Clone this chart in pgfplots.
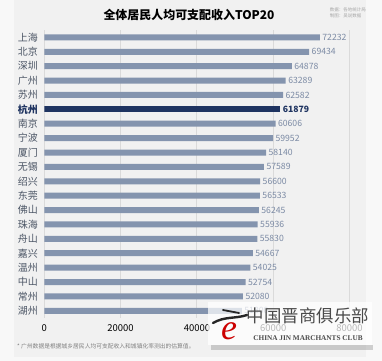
\documentclass[border=0pt]{standalone}
\usepackage{fontspec}
\setmainfont{Noto Sans CJK SC}
\newfontfamily\lserif{Liberation Serif}
\usepackage{pgfplots}
\pgfplotsset{compat=1.18}
\definecolor{barc}{HTML}{8494AE}
\definecolor{hz}{HTML}{1F3461}
\definecolor{lab}{HTML}{4B5565}
\definecolor{val}{HTML}{7B8AA4}
\definecolor{outerc}{HTML}{F8F8F8}
\definecolor{panel}{HTML}{F1F1F1}
\definecolor{gridc}{HTML}{DADADA}
\definecolor{wm}{HTML}{4A4A4A}
\begin{document}
\begin{tikzpicture}[x=1bp,y=1bp]
\fill[outerc] (0,0) rectangle (382,361);
\useasboundingbox (0,0) rectangle (382,361);
\fill[panel] (14,4) rectangle (366,361);
\node[font=\bfseries\fontsize{12}{14}\selectfont] at (189,346) {全体居民人均可支配收入TOP20};
\node[font=\fontsize{4.5}{5.5}\selectfont, text=gray!70, align=left, anchor=east, inner sep=0pt] at (366,348) {数据：各地统计局\\制图：吴说数据};
\node[font=\fontsize{5.8}{7}\selectfont, text=gray, anchor=west, inner sep=0pt] at (17,15) {* 广州数据是根据城乡居民人均可支配收入和城镇化率测出的估算值。};
\begin{axis}[
  at={(44.3bp,43bp)}, anchor=south west, scale only axis,
  width=305.2bp, height=287.8bp,
  xbar, bar shift=0pt, bar width=6bp,
  xmin=0, xmax=80000, ymin=-0.5, ymax=19.5, y dir=reverse,
  ytick={0,...,19},
  yticklabels={上海,北京,深圳,广州,苏州,{\textcolor{hz}{\textbf{杭州}}},南京,宁波,厦门,无锡,绍兴,东莞,佛山,珠海,舟山,嘉兴,温州,中山,常州,湖州},
  xtick={0,20000,40000,60000,80000},
  scaled x ticks=false,
  xticklabel style={/pgf/number format/1000 sep={}, font=\fontsize{9.5}{11}\selectfont, text=black, yshift=-3bp},
  /pgf/number format/assume math mode=true,
  yticklabel style={font=\fontsize{10}{12}\selectfont, text=lab, xshift=-3bp},
  xmajorgrids, grid style={gridc, line width=0.8bp},
  axis line style={draw=none},
  major tick length=0pt,
  tick style={draw=none},
  point meta=explicit symbolic,
  nodes near coords,
  nodes near coords style={font=\fontsize{8.7}{10}\selectfont, text=val, anchor=west, xshift=-1bp},
]
\addplot[fill=barc, draw=none] coordinates {
(72232,0) [72232]
(69434,1) [69434]
(64878,2) [64878]
(63289,3) [63289]
(62582,4) [62582]
(60606,6) [60606]
(59952,7) [59952]
(58140,8) [58140]
(57589,9) [57589]
(56600,10) [56600]
(56533,11) [56533]
(56245,12) [56245]
(55936,13) [55936]
(55830,14) [55830]
(54667,15) [54667]
(54025,16) [54025]
(52754,17) [52754]
(52080,18) [52080]
(51800,19) [51800]
};
\addplot[fill=hz, draw=none, nodes near coords style={text=hz, font=\bfseries\fontsize{8.7}{10}\selectfont}] coordinates {
(61879,5) [61879]
};
\end{axis}
% watermark overlay
\fill[gray, opacity=0.35] (211,11) rectangle (373,16);
\fill[white, opacity=0.72] (208,16) rectangle (372,59);
\node[font=\fontsize{17.5}{19}\selectfont, text=wm, inner sep=0pt] at (308,45) {中国晋商俱乐部};
\node[font=\lserif\bfseries\fontsize{7.3}{8}\selectfont, text=wm, inner sep=0pt] at (308,23) {CHINA JIN MARCHANTS CLUB};
\node[font=\lserif\itshape\fontsize{36}{36}\selectfont, text=red!80!black, inner sep=0pt] at (229,30) {e};
\draw[line width=2.4bp, black!85, line cap=round] (213,38) .. controls (225,45) and (235,42) .. (247,46);
\draw[line width=1.8bp, black!85, line cap=round] (223,51) -- (239,48);
\end{tikzpicture}
\end{document}
